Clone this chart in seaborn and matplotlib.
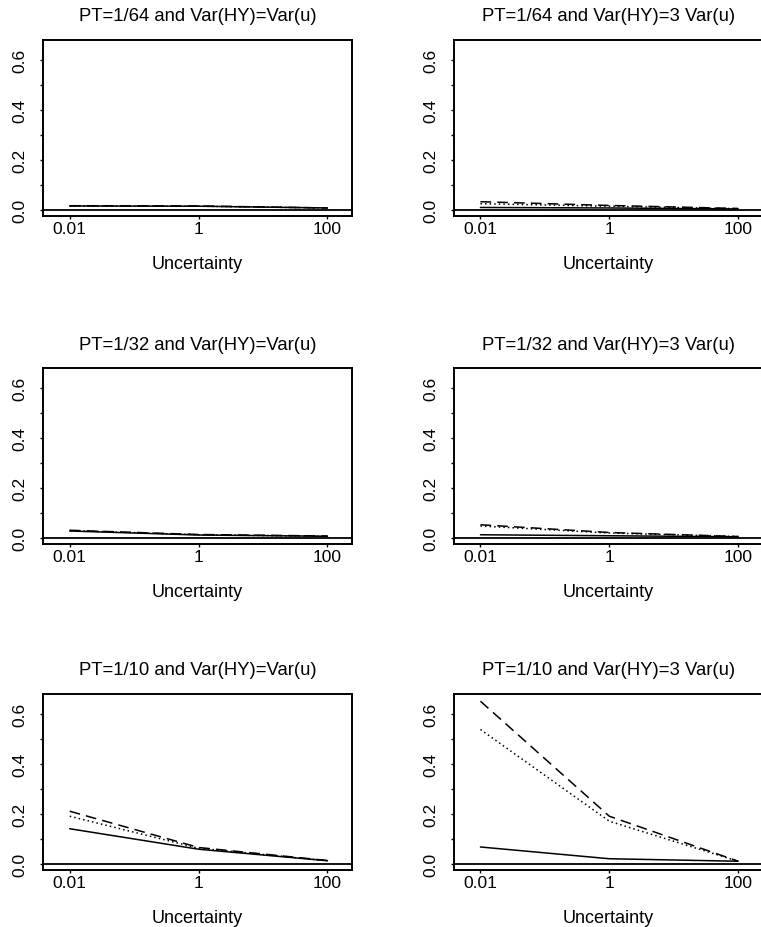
import numpy as np
import pandas as pd
import seaborn as sns
import matplotlib.pyplot as plt
from matplotlib.ticker import FixedLocator, NullFormatter

# x grid (uncertainty)
uncertainty = [0.01, 1, 100]

titles = ['PT=1/64 and Var(HY)=Var(u)', 'PT=1/64 and Var(HY)=3 Var(u)',
          'PT=1/32 and Var(HY)=Var(u)', 'PT=1/32 and Var(HY)=3 Var(u)',
          'PT=1/10 and Var(HY)=Var(u)', 'PT=1/10 and Var(HY)=3 Var(u)']

# series values per panel (solid, dashed, dotted)
solid_vals = [[0.016, 0.015, 0.008], [0.010, 0.008, 0.004],
              [0.028, 0.012, 0.007], [0.013, 0.009, 0.005],
              [0.140, 0.058, 0.012], [0.067, 0.020, 0.010]]
dashed_vals = [[0.017, 0.016, 0.008], [0.033, 0.018, 0.006],
               [0.031, 0.014, 0.008], [0.053, 0.022, 0.006],
               [0.210, 0.065, 0.013], [0.650, 0.190, 0.010]]
dotted_vals = [[0.016, 0.015, 0.008], [0.025, 0.015, 0.005],
               [0.030, 0.013, 0.007], [0.048, 0.020, 0.006],
               [0.190, 0.062, 0.012], [0.537, 0.170, 0.010]]

sns.set_style('ticks')
plt.rcParams['font.family'] = ['Liberation Sans', 'DejaVu Sans']
plt.rcParams['text.color'] = 'black'
plt.rcParams['axes.labelcolor'] = 'black'
plt.rcParams['xtick.color'] = 'black'
plt.rcParams['ytick.color'] = 'black'

fig = plt.figure(figsize=(7.61, 9.28), dpi=100)

col_left = [0.0569, 0.5966]
row_bottom = [0.7662, 0.4127, 0.0617]
w, h = 0.4056, 0.1897

for i in range(6):
    r, c = divmod(i, 2)
    ax = fig.add_axes([col_left[c], row_bottom[r], w, h])
    df = pd.DataFrame({
        'u': uncertainty * 3,
        'v': solid_vals[i] + dashed_vals[i] + dotted_vals[i],
        'series': ['solid'] * 3 + ['dashed'] * 3 + ['dotted'] * 3,
    })
    sns.lineplot(data=df, x='u', y='v', style='series',
                 dashes={'solid': '', 'dashed': (7, 4), 'dotted': (1, 2)},
                 color='black', linewidth=1.1, legend=False, ax=ax)
    ax.axhline(0, color='black', linewidth=1.3)
    ax.set_xscale('log')
    ax.set_xlim(10 ** -2.41, 10 ** 2.38)
    ax.set_ylim(-0.024, 0.68)
    ax.set_xticks([0.01, 1, 100])
    ax.set_xticklabels(['0.01', '1', '100'])
    ax.xaxis.set_minor_locator(FixedLocator([]))
    ax.set_yticks([0.0, 0.2, 0.4, 0.6])
    ax.set_yticklabels(['0.0', '0.2', '0.4', '0.6'], rotation=90, va='center')
    ax.yaxis.set_minor_locator(FixedLocator([0.1, 0.3, 0.5]))
    ax.yaxis.set_minor_formatter(NullFormatter())
    ax.tick_params(axis='both', which='both', length=2.5, width=1,
                   labelsize=12.5, direction='out', color='black')
    ax.tick_params(axis='x', pad=1)
    ax.tick_params(axis='y', pad=9)
    for s in ax.spines.values():
        s.set_visible(True)
        s.set_linewidth(1.4)
        s.set_color('black')
    ax.set_xlabel('Uncertainty', fontsize=13, labelpad=14)
    ax.set_ylabel('')
    ax.set_title(titles[i], fontsize=13.3, pad=14)

plt.savefig('out.png', dpi=100)
